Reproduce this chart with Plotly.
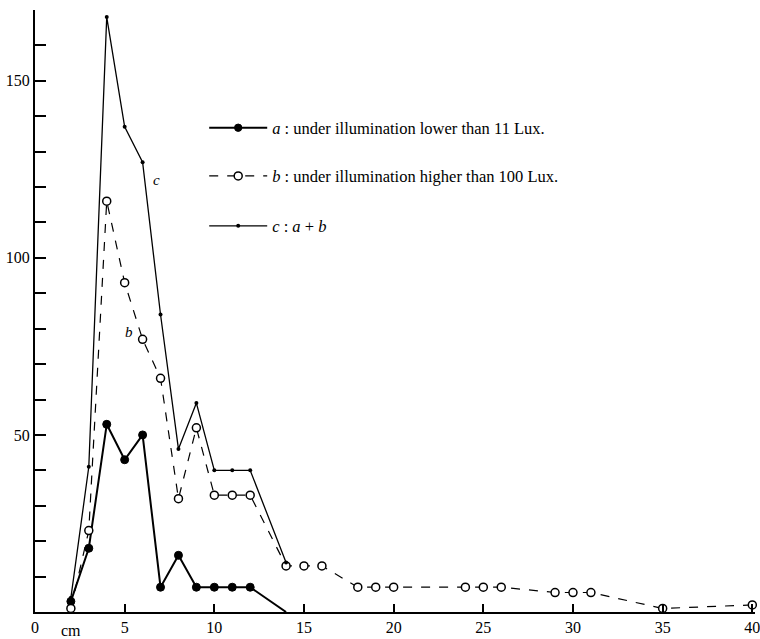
import plotly.graph_objects as go

# distance (cm)
x_a = [2, 3, 4, 5, 6, 7, 8, 9, 10, 11, 12, 14]
y_a = [3, 18, 53, 43, 50, 7, 16, 7, 7, 7, 7, 0]

x_b = [2, 3, 4, 5, 6, 7, 8, 9, 10, 11, 12, 14, 15, 16, 18, 19, 20, 24, 25, 26, 29, 30, 31, 35, 40]
y_b = [1, 23, 116, 93, 77, 66, 32, 52, 33, 33, 33, 13, 13, 13, 7, 7, 7, 7, 7, 7, 5.5, 5.5, 5.5, 1, 2]

x_c = [2, 3, 4, 5, 6, 7, 8, 9, 10, 11, 12, 14]
y_c = [4, 41, 168, 137, 127, 84, 46, 59, 40, 40, 40, 14]

x_ticks = [0, 5, 10, 15, 20, 25, 30, 35, 40]
y_ticks = list(range(10, 171, 10))
y_labels = {50: "50", 100: "100", 150: "150"}

SERIF = "Liberation Serif, Times New Roman, serif"

fig = go.Figure()

sizes_a = [8] * (len(x_a) - 1) + [0]
fig.add_trace(go.Scatter(
    x=x_a, y=y_a, mode="lines+markers",
    name="<i>a</i> : under illumination lower than 11 Lux.",
    line=dict(color="black", width=2),
    marker=dict(color="black", size=sizes_a, opacity=1, line=dict(color="black", width=1)),
    cliponaxis=False, legend="legend", showlegend=True,
))
fig.add_trace(go.Scatter(
    x=x_b, y=y_b, mode="lines+markers",
    name="<i>b</i> : under illumination higher than 100 Lux.",
    line=dict(color="black", width=1.2, dash="dash"),
    marker=dict(color="white", size=8, line=dict(color="black", width=1.5)),
    cliponaxis=False, legend="legend2", showlegend=True,
))
fig.add_trace(go.Scatter(
    x=x_c, y=y_c, mode="lines+markers",
    name="<i>c</i> : <i>a</i> + <i>b</i>",
    line=dict(color="black", width=1.3),
    marker=dict(color="black", size=4),
    cliponaxis=False, legend="legend3", showlegend=True,
))

fig.add_annotation(x=6.8, y=122, text="<i>c</i>", showarrow=False,
                   font=dict(family=SERIF, size=15, color="black"))
fig.add_annotation(x=5.25, y=79, text="<i>b</i>", showarrow=False,
                   font=dict(family=SERIF, size=15, color="black"))
fig.add_annotation(x=2, y=0, xref="x", yref="paper", yanchor="top", yshift=-8,
                   text="cm", showarrow=False,
                   font=dict(family=SERIF, size=16, color="black"))

leg_common = dict(bgcolor="rgba(0,0,0,0)", font=dict(family=SERIF, size=16.5, color="black"),
                  xanchor="left", yanchor="middle", itemwidth=58)
fig.update_layout(
    width=760, height=639,
    margin=dict(l=35, r=5, t=10, b=27, autoexpand=False),
    showlegend=True,
    plot_bgcolor="white", paper_bgcolor="white",
    font=dict(family=SERIF, size=16, color="black"),
    legend=dict(x=0.235, y=0.804, **leg_common),
    legend2=dict(x=0.235, y=0.724, **leg_common),
    legend3=dict(x=0.235, y=0.641, **leg_common),
    xaxis=dict(range=[0, 40.15], showgrid=False, zeroline=False,
               showline=True, linecolor="black", linewidth=2,
               ticks="inside", ticklen=8, tickwidth=1.5, tickcolor="black",
               tickvals=x_ticks, ticktext=[str(v) for v in x_ticks],
               ticklabeloverflow="allow",
               tickfont=dict(family=SERIF, size=16)),
    yaxis=dict(range=[0, 170], showgrid=False, zeroline=False,
               showline=True, linecolor="black", linewidth=2,
               ticks="inside", ticklen=11, tickwidth=1.5, tickcolor="black",
               tickvals=y_ticks, ticktext=[y_labels.get(v, "") for v in y_ticks],
               tickfont=dict(family=SERIF, size=16)),
)

fig.write_html("out.html",
               config={"displayModeBar": False},
               post_script="document.body.style.margin='0px';document.body.style.overflow='hidden';")
